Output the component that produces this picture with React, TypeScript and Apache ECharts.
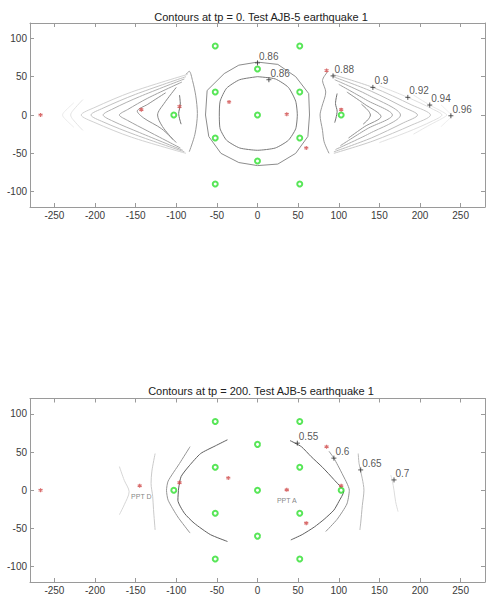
import React, { useEffect, useRef } from "react";
import * as echarts from "echarts";

type P = [number, number];

// Axis extents
const X_MIN = -280;
const X_MAX = 280;
const Y_MIN = -120;
const Y_MAX = 120;

const titleTop = "Contours at tp = 0. Test AJB-5 earthquake 1";
const titleBottom = "Contours at tp = 200. Test AJB-5 earthquake 1";

// Green sensor markers (same in both panels)
const sensorPoints: P[] = [
  [-52, 90], [52, 90], [0, 60], [-52, 30], [52, 30], [-103, 0], [0, 0],
  [103, 0], [-52, -30], [52, -30], [0, -60], [-52, -90], [52, -90],
];

// Red markers
const redPointsTop: P[] = [
  [-267, 0], [-143, 7], [-96, 11], [-35, 17], [36, 1], [85, 58], [103, 7], [60, -43],
];
const redPointsBottom: P[] = [
  [-267, 0], [-145, 6], [-96, 10], [-36, 16], [36, 0.5], [85, 57], [103, 6], [60, -43],
];

// Contour label anchor points [x, y] and texts
const topLabelPoints: P[] = [[0, 68], [14, 46], [93, 51], [142, 36], [185, 23], [212, 13], [238, -1]];
const topLabelTexts: string[] = ["0.86", "0.86", "0.88", "0.9", "0.92", "0.94", "0.96"];
const bottomLabelPoints: P[] = [[49, 61.6], [94, 42], [127, 26.6], [168, 13.5]];
const bottomLabelTexts: string[] = ["0.55", "0.6", "0.65", "0.7"];

// PPT labels (bottom panel)
const pptPoints: P[] = [[-143, -8.5], [36, -14]];
const pptTexts: string[] = ["PPT D", "PPT A"];

// ---- Top panel contours ----
const topCentralOuter: P[] = [[0, 69], [25, 66], [47, 50], [63, 28], [64, 0], [62, -28], [47, -50], [25, -64], [0, -66], [-23, -62], [-45, -50], [-60, -28], [-64, 0], [-62, 32], [-41, 54], [-23, 65], [0, 69]];
const topCentralInner: P[] = [[0, 50], [22, 47], [38, 36], [47, 18], [49, 0], [47, -18], [38, -33], [22, -43], [0, -46], [-22, -43], [-38, -33], [-46, -18], [-47, 0], [-46, 18], [-38, 35], [-22, 46], [0, 50]];

const topRightEdge: P[] = [[86, 56], [80, 45], [84, 30], [79, 10], [77, 0], [80, -20], [82, -35], [88, -50]];
const topRightInner: P[] = [[98, 28], [96, 15], [98, 5], [95, -10]];
const topRightC: P[] = [[128, 14], [136, 6], [139, 0], [136, -6], [130, -12]];
const topRight152: P[] = [[110, 30], [132, 14], [152, -2], [132, -15], [112, -30]];
const topRight166: P[] = [[100, 40], [135, 19], [166, 0], [135, -18], [102, -40]];
const topRight176: P[] = [[95, 46], [138, 25], [176, 0], [138, -24], [96, -45]];
const topRight197: P[] = [[93, 50], [140, 31], [180, 10], [197, 0], [180, -10], [140, -30], [94, -48]];
const topRight090: P[] = [[92, 53], [142, 36], [190, 13], [213, 0], [190, -13], [142, -34], [94, -50]];
const topRight092: P[] = [[150, 38], [185, 23], [215, 8], [227, 0], [215, -8], [185, -22], [150, -36]];
const topRight094: P[] = [[192, 26], [212, 13], [228, 4], [233, 0], [228, -4], [212, -13], [192, -25]];
const topRight096: P[] = [[226, 13], [235, 4], [239, -1], [235, -6], [226, -15]];

const topLeftEdge: P[] = [[-88, 53], [-84, 57], [-80, 45], [-76, 25], [-74, 2], [-77, -25], [-84, -48]];
const topLeftInner: P[] = [[-96, 26], [-95, 14], [-97, 2], [-94, -12]];
const topLeft123: P[] = [[-100, 36], [-115, 15], [-123, 0], [-117, -15], [-104, -32]];
const topLeft148: P[] = [[-113, 29], [-135, 14], [-148, 5], [-140, -4], [-118, -18], [-100, -36]];
const topLeft170: P[] = [[-93, 43], [-135, 22], [-160, 7], [-170, 0], [-160, -7], [-135, -21], [-95, -43]];
const topLeft190: P[] = [[-90, 47], [-145, 24], [-178, 8], [-190, 0], [-178, -8], [-145, -23], [-92, -46]];
const topLeft205: P[] = [[-88, 50], [-150, 27], [-190, 9], [-205, 0], [-190, -9], [-150, -26], [-90, -48]];
const topLeft217: P[] = [[-86, 53], [-155, 30], [-200, 10], [-217, 0], [-200, -10], [-155, -29], [-88, -50]];
const topLeftFaint1: P[] = [[-215, 20], [-227, 6], [-230, 0], [-227, -6], [-215, -20]];
const topLeftFaint2: P[] = [[-226, 16], [-237, 5], [-240, 0], [-237, -5], [-226, -16]];

// ---- Bottom panel contours ----
const botLeftOuter: P[] = [[-170, 31], [-164, 13], [-158, -2], [-164, -19], [-170, -32]];
const botLeftMid: P[] = [[-126, 48], [-130, 25], [-131, 9], [-129, -8], [-128, -25], [-126, -52]];
const botLeft060: P[] = [[-83, 57], [-96, 35], [-110, 12], [-112, 0], [-110, -13], [-98, -35], [-83, -56]];
const botLeft055: P[] = [[-37, 66], [-52, 58], [-70, 48], [-84, 32], [-94, 18], [-97, 3], [-98, -13], [-90, -30], [-78, -43], [-58, -58], [-37, -67]];
const botRight055: P[] = [[40, 65], [54, 57], [66, 44], [80, 30], [94, 14], [106, -2], [100, -15], [94, -26], [82, -38], [70, -48], [55, -58], [41, -65]];
const botRight060: P[] = [[88, 51], [94, 42], [104, 22], [113, 0], [110, -18], [98, -38], [84, -54]];
const botRight065: P[] = [[124, 48], [125, 35], [129, 15], [131, 0], [129, -20], [127, -43], [126, -52]];
const botRight070: P[] = [[164, 20], [166, 12], [168, 0], [170, -15], [173, -28]];

const FONT = "Liberation Sans, Arial, sans-serif";
const AXIS_COLOR = "#9a9a9a";
const STAR = "path://M5 0V10M0.7 2.5L9.3 7.5M9.3 2.5L0.7 7.5";
const PLUS = "path://M5 0V10M0 5H10";

export default function App() {
  const ref = useRef<HTMLDivElement>(null);

  useEffect(() => {
    if (!ref.current) return;
    const chart = echarts.init(ref.current, undefined, { renderer: "svg" });

    const topContours: [P[], string, number][] = [
      [topCentralOuter, "#8c8c8c", 0],
      [topCentralInner, "#7a7a7a", 0.2],
      [topRightEdge, "#9a9a9a", 0.3],
      [topRightInner, "#707070", 0.3],
      [topRightC, "#8a8a8a", 0.3],
      [topRight152, "#959595", 0.3],
      [topRight166, "#a2a2a2", 0.3],
      [topRight176, "#afafaf", 0.3],
      [topRight197, "#bdbdbd", 0.3],
      [topRight090, "#c9c9c9", 0.3],
      [topRight092, "#e0e0e0", 0.3],
      [topRight094, "#e8e8e8", 0.3],
      [topRight096, "#eeeeee", 0.3],
      [topLeftEdge, "#9a9a9a", 0.3],
      [topLeftInner, "#707070", 0.3],
      [topLeft123, "#8a8a8a", 0.3],
      [topLeft148, "#929292", 0.3],
      [topLeft170, "#a2a2a2", 0.3],
      [topLeft190, "#b2b2b2", 0.3],
      [topLeft205, "#c2c2c2", 0.3],
      [topLeft217, "#d2d2d2", 0.3],
      [topLeftFaint1, "#e4e4e4", 0.3],
      [topLeftFaint2, "#ededed", 0.3],
    ];
    const bottomContours: [P[], string, number][] = [
      [botLeftOuter, "#d6d6d6", 0.3],
      [botLeftMid, "#cacaca", 0.3],
      [botLeft060, "#959595", 0.2],
      [botLeft055, "#5f5f5f", 0.2],
      [botRight055, "#5f5f5f", 0.2],
      [botRight060, "#959595", 0.2],
      [botRight065, "#b8b8b8", 0.3],
      [botRight070, "#dcdcdc", 0.3],
    ];

    const xAxisBase = (grid: number, top: boolean) => ({
      type: "value" as const,
      gridIndex: grid,
      position: top ? "top" : "bottom",
      min: X_MIN,
      max: X_MAX,
      splitNumber: 11,
      splitLine: { show: false },
      axisLine: { show: true, onZero: false, lineStyle: { color: AXIS_COLOR, width: 1 } },
      axisTick: { show: true, inside: true, length: 4, lineStyle: { color: AXIS_COLOR } },
      axisLabel: {
        show: !top,
        fontSize: 10,
        color: "#3a3a3a",
        fontFamily: FONT,
        margin: 3,
        showMinLabel: false,
        showMaxLabel: false,
      },
    });
    const yAxisBase = (grid: number, right: boolean) => ({
      type: "value" as const,
      gridIndex: grid,
      position: right ? "right" : "left",
      min: Y_MIN,
      max: Y_MAX,
      splitNumber: 5,
      splitLine: { show: false },
      axisLine: { show: true, onZero: false, lineStyle: { color: AXIS_COLOR, width: 1 } },
      axisTick: { show: true, inside: true, length: 4, lineStyle: { color: AXIS_COLOR } },
      axisLabel: {
        show: !right,
        fontSize: 10,
        color: "#3a3a3a",
        fontFamily: FONT,
        margin: 3,
        showMinLabel: false,
        showMaxLabel: false,
      },
    });

    const series: any[] = [];
    const addPanel = (
      axisX: number,
      axisY: number,
      contours: [P[], string, number][],
      reds: P[],
      labelPts: P[],
      labelTexts: string[]
    ) => {
      contours.forEach(([data, color, smooth]) => {
        series.push({
          type: "line",
          xAxisIndex: axisX,
          yAxisIndex: axisY,
          data,
          showSymbol: false,
          symbol: "none",
          smooth,
          silent: true,
          lineStyle: { color, width: 1 },
          z: 2,
        });
      });
      series.push({
        type: "scatter",
        xAxisIndex: axisX,
        yAxisIndex: axisY,
        data: sensorPoints,
        symbol: "circle",
        symbolSize: 5,
        itemStyle: { color: "#ffffff", borderColor: "#2ee02e", borderWidth: 2 },
        silent: true,
        z: 5,
      });
      series.push({
        type: "scatter",
        xAxisIndex: axisX,
        yAxisIndex: axisY,
        data: reds,
        symbol: STAR,
        symbolSize: 4,
        itemStyle: { color: "#d04848", borderColor: "#d04848", borderWidth: 1.2 },
        silent: true,
        z: 6,
      });
      series.push({
        type: "scatter",
        xAxisIndex: axisX,
        yAxisIndex: axisY,
        data: labelPts.map((p, i) => ({ value: p, name: labelTexts[i] })),
        symbol: PLUS,
        symbolSize: 5,
        itemStyle: { color: "#333", borderColor: "#333", borderWidth: 1 },
        label: {
          show: true,
          formatter: "{b}",
          position: [4.5, -3.5],
          align: "left",
          verticalAlign: "middle",
          fontSize: 10,
          color: "#2a2a2a",
          fontFamily: FONT,
        },
        silent: true,
        z: 7,
      });
    };

    addPanel(0, 0, topContours, redPointsTop, topLabelPoints, topLabelTexts);
    addPanel(2, 2, bottomContours, redPointsBottom, bottomLabelPoints, bottomLabelTexts);

    series.push({
      type: "scatter",
      xAxisIndex: 2,
      yAxisIndex: 2,
      data: pptPoints.map((p, i) => ({ value: p, name: pptTexts[i] })),
      symbolSize: 0,
      itemStyle: { color: "transparent" },
      label: {
        show: true,
        formatter: "{b}",
        position: [0, 0],
        align: "center",
        verticalAlign: "middle",
        fontSize: 7,
        color: "#666",
        fontFamily: FONT,
      },
      silent: true,
      z: 7,
    });

    chart.setOption({
      animation: false,
      backgroundColor: "#ffffff",
      title: [
        {
          text: titleTop,
          left: 256,
          top: 6,
          textAlign: "center",
          textStyle: { fontSize: 11, fontWeight: "normal", color: "#222", fontFamily: FONT },
        },
        {
          text: titleBottom,
          left: 256,
          top: 380,
          textAlign: "center",
          textStyle: { fontSize: 11, fontWeight: "normal", color: "#222", fontFamily: FONT },
        },
      ],
      grid: [
        { left: 30, top: 23, width: 455, height: 184 },
        { left: 30, top: 398.5, width: 455, height: 183.5 },
      ],
      xAxis: [xAxisBase(0, false), xAxisBase(0, true), xAxisBase(1, false), xAxisBase(1, true)],
      yAxis: [yAxisBase(0, false), yAxisBase(0, true), yAxisBase(1, false), yAxisBase(1, true)],
      series,
    });

    return () => chart.dispose();
  }, []);

  return (
    <div
      ref={ref}
      style={{ position: "fixed", left: 0, top: 0, width: 486, height: 598, background: "#fff" }}
    />
  );
}
